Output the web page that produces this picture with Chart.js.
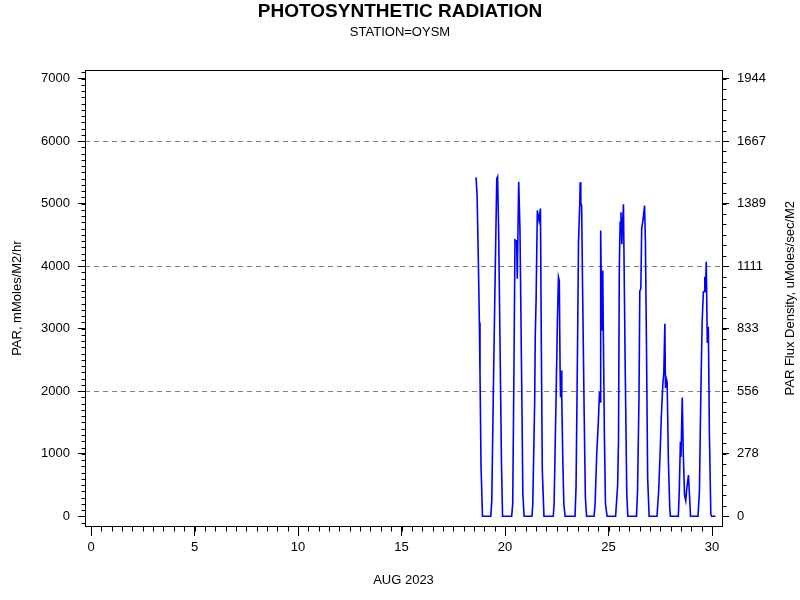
<!DOCTYPE html>
<html>
<head>
<meta charset="utf-8">
<script src="https://cdn.jsdelivr.net/npm/chart.js@4"></script>
<style>
  body { margin: 0; background: #fff; }
  canvas { display: block; }
</style>
</head>
<body>
<canvas id="parChart" width="800" height="600"></canvas>
<script>
// day of month (Aug 2023) and PAR in mMoles/M2/hr
var days = [
    18.60, 18.65, 18.71, 18.76, 18.79, 18.84, 18.91,
    19.31, 19.36, 19.43, 19.53, 19.60, 19.64, 19.69, 19.76, 19.83, 19.88,
    20.32, 20.37, 20.43, 20.48, 20.56, 20.59, 20.66, 20.72, 20.81, 20.86, 20.92,
    21.30, 21.34, 21.43, 21.46, 21.50, 21.56, 21.64, 21.71, 21.75, 21.80, 21.88,
    22.33, 22.37, 22.46, 22.53, 22.58, 22.62, 22.66, 22.68, 22.71, 22.74, 22.79, 22.84, 22.90,
    23.38, 23.43, 23.49, 23.55, 23.61, 23.63, 23.66, 23.70, 23.74, 23.82, 23.88, 23.94,
    24.30, 24.35, 24.43, 24.51, 24.56, 24.59, 24.62, 24.67, 24.72, 24.75, 24.80, 24.85, 24.93,
    25.34, 25.38, 25.44, 25.48, 25.52, 25.56, 25.60, 25.64, 25.68, 25.72, 25.80, 25.88, 25.93,
    26.35, 26.40, 26.47, 26.51, 26.56, 26.60, 26.67, 26.74, 26.78, 26.83, 26.89, 26.96,
    27.34, 27.42, 27.49, 27.55, 27.62, 27.67, 27.72, 27.75, 27.79, 27.83, 27.89, 27.96, 27.99,
    28.37, 28.42, 28.47, 28.50, 28.56, 28.61, 28.67, 28.73, 28.78, 28.86, 28.90, 28.96,
    29.32, 29.39, 29.45, 29.52, 29.58, 29.63, 29.65, 29.68, 29.72, 29.77, 29.82, 29.87, 29.94, 29.98, 30.17
];
var par = [
    5420, 5130, 4100, 3100, 2300, 800, 0,
    0, 250, 1900, 4000, 5400, 5430, 4600, 2700, 800, 0,
    0, 200, 2330, 4420, 4400, 3800, 5350, 4600, 1960, 360, 0,
    0, 200, 1800, 2900, 3450, 4890, 4730, 4920, 2870, 735, 0,
    0, 200, 1800, 3130, 3824, 3770, 2330, 1900, 2330, 1900, 900, 200, 0,
    0, 470, 2330, 4400, 5000, 5340, 5000, 4970, 3800, 1700, 300, 0,
    0, 200, 1000, 1530, 1990, 1830, 4570, 2970, 3930, 2870, 1270, 200, 0,
    0, 200, 500, 1200, 4000, 4700, 4860, 4350, 4700, 4990, 2500, 370, 0,
    0, 400, 1900, 3600, 3640, 4600, 4750, 4970, 4400, 2800, 600, 0,
    0, 400, 1000, 1600, 2100, 2300, 3080, 2050, 2200, 2150, 900, 100, 0,
    0, 450, 1190, 950, 1900, 1000, 340, 250, 450, 660, 400, 0,
    0, 400, 1800, 3100, 3590, 3590, 3830, 3590, 4070, 2770, 3030, 1350, 30, 0, 0
];
var xTicks = [0, 5, 10, 15, 20, 25, 30];
var yTicks = [0, 1000, 2000, 3000, 4000, 5000, 6000, 7000];
var dashedAt = [2000, 4000, 6000];
// right axis: uMoles/sec/M2 = mMoles/hr/M2 / 3.6
var toFlux = 1 / 3.6;

var points = [];
for (var i = 0; i < days.length; i++) {
    points.push({x: days[i], y: par[i]});
}

Chart.defaults.font.family = "'Liberation Sans', Arial, sans-serif";
Chart.defaults.font.size = 13;
Chart.defaults.color = '#000';

var yMin = -155, yMax = 7130;

function minorTicks(ctx, scale, step, len, side) {
    ctx.save();
    ctx.strokeStyle = '#000';
    ctx.lineWidth = 1;
    ctx.beginPath();
    for (var v = Math.ceil(scale.min / step) * step; v <= scale.max + 1e-9; v += step) {
        var p = Math.round(scale.getPixelForValue(v)) + 0.5;
        if (side === 'bottom') {
            var b = Math.round(scale.top) + 0.5;
            ctx.moveTo(p, b); ctx.lineTo(p, b + len);
        } else if (side === 'left') {
            var l = Math.round(scale.right) + 0.5;
            ctx.moveTo(l, p); ctx.lineTo(l - len, p);
        } else {
            var r = Math.round(scale.left) + 0.5;
            ctx.moveTo(r, p); ctx.lineTo(r + len, p);
        }
    }
    ctx.stroke();
    ctx.restore();
}

var framePlugin = {
    id: 'frame',
    beforeDatasetsDraw: function(chart) {
        var ctx = chart.ctx, a = chart.chartArea, y = chart.scales.y;
        ctx.save();
        ctx.strokeStyle = '#808080';
        ctx.lineWidth = 1;
        ctx.setLineDash([5, 4]);
        dashedAt.forEach(function(v) {
            var p = Math.round(y.getPixelForValue(v)) + 0.5;
            ctx.beginPath();
            ctx.moveTo(a.left, p);
            ctx.lineTo(a.right, p);
            ctx.stroke();
        });
        ctx.restore();
    },
    afterDraw: function(chart) {
        var ctx = chart.ctx, a = chart.chartArea;
        ctx.save();
        ctx.strokeStyle = '#000';
        ctx.lineWidth = 1;
        ctx.strokeRect(Math.round(a.left) + 0.5, Math.round(a.top) + 0.5,
            Math.round(a.right - a.left), Math.round(a.bottom - a.top));
        ctx.restore();
        minorTicks(ctx, chart.scales.x, 0.5, 5, 'bottom');
        minorTicks(ctx, chart.scales.y, 100, 4, 'left');
        minorTicks(ctx, chart.scales.y2, 1000 / 6 * toFlux, 4, 'right');
        // right axis title reads bottom-to-top like the left one
        ctx.save();
        ctx.fillStyle = '#000';
        ctx.font = "13px 'Liberation Sans', Arial, sans-serif";
        ctx.textAlign = 'center';
        ctx.textBaseline = 'middle';
        ctx.translate(790, (a.top + a.bottom) / 2);
        ctx.rotate(-Math.PI / 2);
        ctx.fillText('PAR Flux Density, uMoles/sec/M2', 0, 0);
        ctx.restore();
    }
};

var chart = new Chart(document.getElementById('parChart').getContext('2d'), {
    type: 'line',
    data: {
        datasets: [{
            data: points,
            borderColor: '#0000ff',
            borderWidth: 1.6,
            pointRadius: 0,
            tension: 0,
            fill: false
        }]
    },
    options: {
        responsive: false,
        animation: false,
        layout: { padding: 0 },
        plugins: {
            legend: { display: false },
            tooltip: { enabled: false },
            title: {
                display: true,
                text: 'PHOTOSYNTHETIC RADIATION',
                font: { size: 19, weight: 'bold', family: "'Liberation Sans', Arial, sans-serif" },
                padding: { top: 0, bottom: 0 }
            },
            subtitle: {
                display: true,
                text: 'STATION=OYSM',
                font: { size: 13 },
                padding: { top: 2, bottom: 30 }
            }
        },
        scales: {
            x: {
                type: 'linear',
                min: -0.29,
                max: 30.48,
                afterBuildTicks: function(s) { s.ticks = xTicks.map(function(v) { return {value: v}; }); },
                afterFit: function(s) { s.height = 74; },
                ticks: { autoSkip: false, maxRotation: 0, padding: 4 },
                grid: { drawOnChartArea: false, tickLength: 10, color: '#000' },
                border: { color: '#000' },
                title: { display: true, text: 'AUG 2023', padding: { top: 0, bottom: 12 } }
            },
            y: {
                position: 'left',
                min: yMin,
                max: yMax,
                afterBuildTicks: function(s) { s.ticks = yTicks.map(function(v) { return {value: v}; }); },
                afterFit: function(s) { s.width = 85; },
                ticks: {
                    autoSkip: false,
                    padding: 8,
                    callback: function(v) { return String(v); }
                },
                grid: { drawOnChartArea: false, tickLength: 7, color: '#000' },
                border: { color: '#000' },
                title: { display: true, text: 'PAR, mMoles/M2/hr', padding: { top: 10, bottom: 0 } }
            },
            y2: {
                position: 'right',
                min: yMin * toFlux,
                max: yMax * toFlux,
                afterBuildTicks: function(s) { s.ticks = yTicks.map(function(v) { return {value: v * toFlux}; }); },
                afterFit: function(s) { s.width = 78; },
                ticks: {
                    autoSkip: false,
                    padding: 8,
                    callback: function(v) { return String(Math.round(v)); }
                },
                grid: { drawOnChartArea: false, tickLength: 7, color: '#000' },
                border: { color: '#000' }
            }
        }
    },
    plugins: [framePlugin]
});
</script>
</body>
</html>
